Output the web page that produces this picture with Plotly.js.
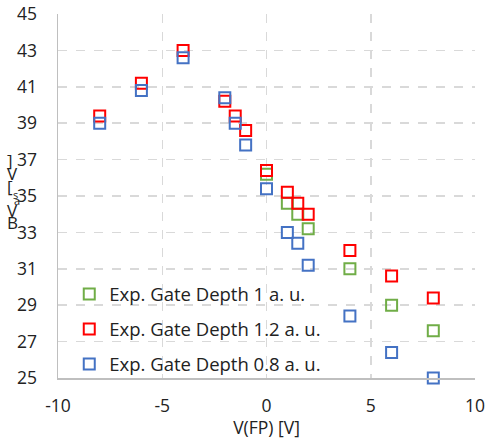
<!DOCTYPE html>
<html>
<head>
<meta charset="utf-8">
<script src="https://cdn.plot.ly/plotly-3.0.1.min.js"></script>
<style>html,body{margin:0;padding:0;background:#fff;}#chart{width:485px;height:439px;}</style>
</head>
<body>
<div id="chart"></div>
<script>
// Data
const xGreen = [0, 1, 1.5, 2, 4, 6, 8];
const yGreen = [36.2, 34.6, 34.0, 33.2, 31.0, 29.0, 27.6];

const xRed = [-8, -6, -4, -2, -1.5, -1, 0, 1, 1.5, 2, 4, 6, 8];
const yRed = [39.4, 41.2, 43.0, 40.2, 39.4, 38.6, 36.4, 35.2, 34.6, 34.0, 32.0, 30.6, 29.4];

const xBlue = [-8, -6, -4, -2, -1.5, -1, 0, 1, 1.5, 2, 4, 6, 8];
const yBlue = [39.0, 40.8, 42.6, 40.4, 39.0, 37.8, 35.4, 33.0, 32.4, 31.2, 28.4, 26.4, 25.0];

const seriesNames = ["Exp. Gate Depth 1 a. u.", "Exp. Gate Depth 1.2 a. u.", "Exp. Gate Depth 0.8 a. u."];
const xTicks = [-10, -5, 0, 5, 10];
const yTicks = [25, 27, 29, 31, 33, 35, 37, 39, 41, 43, 45];

const FONT = "Open Sans, Noto Sans, sans-serif";
const FS = 17.5;

function mk(x, y, name, color, grp) {
  return {
    x: x, y: y, name: name, type: "scatter", mode: "markers",
    legendgroup: grp,
    marker: {symbol: "square-open", size: 11, color: color, line: {width: 2, color: color}},
    cliponaxis: false
  };
}

const traces = [
  mk(xGreen, yGreen, seriesNames[0], "#70AD47", "g"),
  mk(xRed, yRed, seriesNames[1], "#FF0000", "r"),
  mk(xBlue, yBlue, seriesNames[2], "#4472C4", "b")
];

// stacked, broken y-axis title as in the reference
const titleChars = [
  {c: "]", px: 10, py: 160, s: 17},
  {c: "V", px: 12, py: 173, s: 17},
  {c: "[", px: 10, py: 186, s: 17},
  {c: "s", px: 15, py: 194, s: 11},
  {c: "a", px: 17, py: 201, s: 11},
  {c: "V", px: 12, py: 210, s: 17},
  {c: "B", px: 12, py: 223, s: 17}
];
const L = 58, R = 475, T = 14, B = 378;
const annotations = titleChars.map(t => ({
  text: t.c, xref: "paper", yref: "paper",
  x: (t.px - L) / (R - L), y: (B - t.py) / (B - T),
  xanchor: "center", yanchor: "middle", showarrow: false,
  font: {family: FONT, size: t.s, color: "#222"}
}));

const layout = {
  width: 485, height: 439,
  margin: {l: L, r: 485 - R, t: T, b: 439 - B},
  paper_bgcolor: "#fff", plot_bgcolor: "#fff",
  showlegend: true,
  font: {family: FONT, size: FS, color: "#222"},
  xaxis: {
    range: [-10, 10], tickvals: xTicks, ticktext: xTicks.map(String),
    showgrid: true, gridcolor: "#d9d9d9", griddash: "dash", gridwidth: 1.5,
    zeroline: false, showline: true, linecolor: "#bfbfbf", linewidth: 1.5,
    ticks: "", ticklabelstandoff: 11, ticklabeloverflow: "allow",
    title: {text: "V(FP) [V]", font: {family: FONT, size: FS, color: "#222"}, standoff: 1},
    tickfont: {family: FONT, size: FS, color: "#222"}
  },
  yaxis: {
    range: [25, 45], tickvals: yTicks, ticktext: yTicks.map(String),
    showgrid: true, gridcolor: "#d9d9d9", griddash: "dash", gridwidth: 1.5,
    zeroline: false, showline: true, linecolor: "#bfbfbf", linewidth: 1.5,
    ticks: "", ticklabelstandoff: 16, ticklabeloverflow: "allow",
    tickfont: {family: FONT, size: FS, color: "#222"}
  },
  legend: {
    x: 0.027, y: 0.282, xanchor: "left", yanchor: "top",
    bgcolor: "rgba(0,0,0,0)", borderwidth: 0,
    tracegroupgap: 8, traceorder: "grouped",
    font: {family: FONT, size: 18.5, color: "#222"}
  },
  annotations: annotations
};

Plotly.newPlot("chart", traces, layout, {displayModeBar: false, staticPlot: true});
</script>
</body>
</html>
